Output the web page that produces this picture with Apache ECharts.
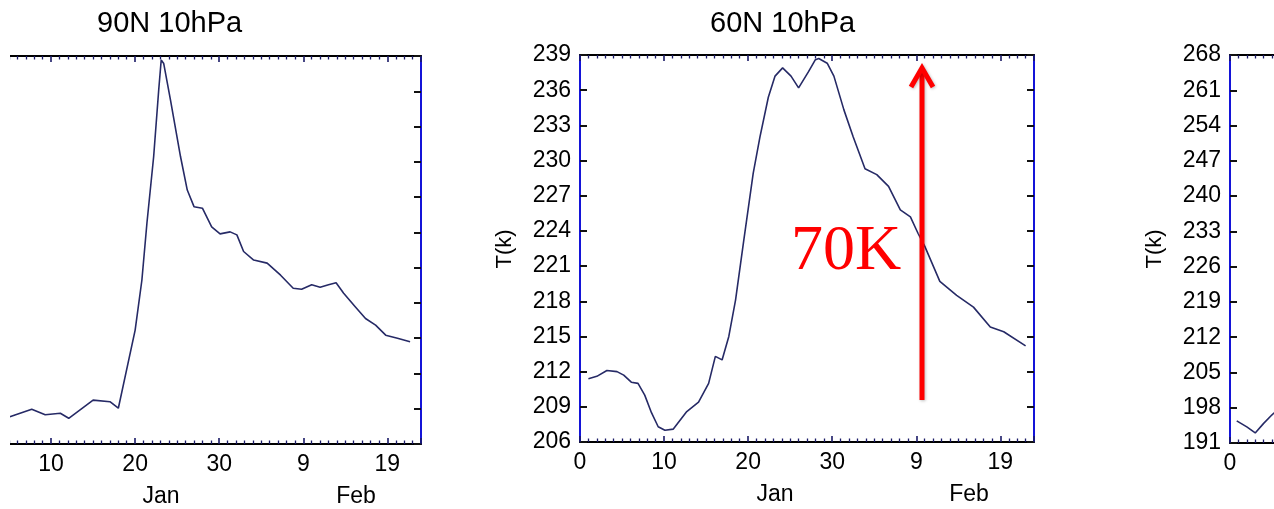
<!DOCTYPE html>
<html><head><meta charset="utf-8">
<script src="https://cdn.jsdelivr.net/npm/echarts@6/dist/echarts.min.js"></script>
<style>html,body{margin:0;padding:0;background:#fff}#c{width:1274px;height:509px}</style>
</head><body><div id="c"></div>
<script>
// ---- data (day index from Jan 0, temperature in K) ----
const days90 = [5.1,7.7,9.3,11.1,12.1,15.0,17.0,18.0,20.0,20.8,21.4,22.2,22.8,23.1,23.4,24.2,25.4,26.2,27.0,28.0,29.1,30.1,31.3,32.1,32.9,34.1,35.7,37.3,38.8,39.8,41.0,42.0,43.0,43.9,44.8,46.2,47.4,48.6,49.8,51.2,52.7];
const temp90 = [196.4,197.9,196.8,197.1,196.1,199.7,199.4,198.1,213.6,223.5,234.8,248.0,261.2,267.2,266.5,259.3,248.0,241.4,238.1,237.8,234.1,232.7,233.1,232.5,229.2,227.5,226.9,224.5,221.9,221.7,222.6,222.1,222.6,223.0,220.9,218.2,215.9,214.6,212.6,212.0,211.3];
const days60 = [1.0,2.0,3.2,4.4,5.2,6.1,6.9,7.7,8.5,9.3,10.1,11.1,12.7,14.1,15.3,16.1,16.9,17.7,18.5,19.5,20.6,21.4,22.4,23.2,24.1,25.1,26.0,27.2,28.0,28.4,29.4,30.2,31.4,32.5,33.9,35.3,36.7,38.1,39.3,40.2,41.0,42.8,44.8,46.8,48.8,50.4,53.0];
const temp60 = [211.4,211.6,212.1,212.0,211.7,211.1,211.0,210.0,208.5,207.3,207.0,207.1,208.6,209.4,211.0,213.3,213.0,215.0,218.1,223.3,228.9,232.0,235.4,237.2,237.9,237.2,236.2,237.6,238.6,238.7,238.3,237.2,234.3,232.0,229.3,228.8,227.8,225.8,225.2,223.8,222.7,219.7,218.5,217.5,215.8,215.4,214.2];
const daysR = [0.8,2.0,3.0,4.0,5.0,5.6];
const tempR = [195.4,194.2,193.0,194.9,196.6,197.5];

const xTickDays = [0,10,20,30,40,50];
const xTickLabels = ['0','10','20','30','9','19'];
const yTicksWide = [191,198,205,212,219,226,233,240,247,254,261,268];
const yTicks60 = [206,209,212,215,218,221,224,227,230,233,236,239];
const titles = ['90N 10hPa','60N 10hPa'];
const months = ['Jan','Feb'];
const annotation = '70K';
const yName = 'T(k)';

// ---- chart ----
const FONT = '"Liberation Sans", Arial, Helvetica, sans-serif';
const LINE = '#262a66';
const grids = [
  {left:-33, top:56, width:454, height:388, outerBoundsMode:'none', containLabel:false},
  {left:580, top:55, width:454, height:387, outerBoundsMode:'none', containLabel:false},
  {left:1230, top:55, width:454, height:388, outerBoundsMode:'none', containLabel:false}
];
const yTickSets = [yTicksWide, yTicks60, yTicksWide];
const yLabelShow = [false, true, true];
const seriesData = [[days90,temp90],[days60,temp60],[daysR,tempR]];

const xAxes = [], yAxes = [], series = [];
grids.forEach((g, gi) => {
  ['bottom','top'].forEach(pos => {
    xAxes.push({
      type:'value', gridIndex:gi, position:pos, min:0, max:54, interval:10,
      axisLine:{show:true, onZero:false, lineStyle:{color:'#000', width:2}},
      axisTick:{show:true, inside:true, length:6, lineStyle:{color:'#1a1a66', width:1.6}},
      minorTick:{show:true, splitNumber:10, length:3.5, lineStyle:{color:'#1a1a66', width:1.3}},
      splitLine:{show:false}, minorSplitLine:{show:false},
      axisLabel:{show: pos==='bottom', margin:9, color:'#000', fontSize:23, fontFamily:FONT,
        showMaxLabel:false, hideOverlap:false,
        formatter: v => { const i = xTickDays.indexOf(Math.round(v)); return (i>=0 && Math.abs(v-xTickDays[i])<1e-6) ? xTickLabels[i] : ''; }}
    });
  });
  const ticks = yTickSets[gi];
  const base = ticks[0], step = ticks[1]-ticks[0], top = ticks[ticks.length-1]-base;
  ['left','right'].forEach(pos => {
    yAxes.push({
      type:'value', gridIndex:gi, position:pos, min:0, max:top, interval:step,
      axisLine:{show:true, onZero:false, lineStyle:{color:'#1414d8', width:2}},
      axisTick:{show:true, inside:true, length:7, lineStyle:{color:'#111', width:2}},
      splitLine:{show:false},
      axisLabel:{show: pos==='left' && yLabelShow[gi], margin:9, color:'#000', fontSize:23, fontFamily:FONT,
        hideOverlap:false,
        formatter: v => { const i = Math.round(v/step); return ticks[i]!==undefined ? String(ticks[i]) : ''; }}
    });
  });
  const [dx, dy] = seriesData[gi];
  series.push({
    type:'line', xAxisIndex:gi*2, yAxisIndex:gi*2, showSymbol:false, silent:true,
    lineStyle:{color:LINE, width:1.6}, animation:false,
    data: dx.map((d,i) => [d, dy[i]-base])
  });
});

const graphic = [
  {type:'rect', z:100, shape:{x:0,y:30,width:10,height:440}, style:{fill:'#fff'}},
  {type:'text', z:100, style:{text:titles[0], x:97, y:24, fill:'#000', font:'29px '+FONT, textAlign:'left', textVerticalAlign:'middle'}},
  {type:'text', z:100, style:{text:titles[1], x:710, y:24, fill:'#000', font:'29px '+FONT, textAlign:'left', textVerticalAlign:'middle'}},
  {type:'text', z:100, x:505, y:249, rotation:Math.PI/2, style:{text:yName, x:0, y:0, fill:'#000', font:'22px '+FONT, textAlign:'center', textVerticalAlign:'middle'}},
  {type:'text', z:100, x:1155, y:249, rotation:Math.PI/2, style:{text:yName, x:0, y:0, fill:'#000', font:'22px '+FONT, textAlign:'center', textVerticalAlign:'middle'}},
  {type:'text', z:100, style:{text:months[0], x:161, y:497, fill:'#000', font:'23px '+FONT, textAlign:'center', textVerticalAlign:'middle'}},
  {type:'text', z:100, style:{text:months[1], x:356, y:497, fill:'#000', font:'23px '+FONT, textAlign:'center', textVerticalAlign:'middle'}},
  {type:'text', z:100, style:{text:months[0], x:775, y:495, fill:'#000', font:'23px '+FONT, textAlign:'center', textVerticalAlign:'middle'}},
  {type:'text', z:100, style:{text:months[1], x:969, y:495, fill:'#000', font:'23px '+FONT, textAlign:'center', textVerticalAlign:'middle'}},
  {type:'line', z:100, shape:{x1:922,y1:400,x2:922,y2:70}, style:{stroke:'#ff0000', lineWidth:5, shadowBlur:3, shadowColor:'rgba(0,0,0,0.25)', shadowOffsetX:1, shadowOffsetY:1}},
  {type:'polyline', z:100, shape:{points:[[911,87],[922,68],[933,87]]}, style:{stroke:'#ff0000', lineWidth:5, fill:null, lineJoin:'miter', shadowBlur:3, shadowColor:'rgba(0,0,0,0.25)', shadowOffsetX:1, shadowOffsetY:1}},
  {type:'text', z:100, style:{text:annotation, x:791, y:252, fill:'#ff0000', font:'64px "Liberation Serif", "Times New Roman", serif', textAlign:'left', textVerticalAlign:'middle', shadowBlur:3, shadowColor:'rgba(0,0,0,0.25)', shadowOffsetX:1, shadowOffsetY:1}}
];

const chart = echarts.init(document.getElementById('c'), null, {renderer:'canvas'});
chart.setOption({
  animation:false,
  backgroundColor:'#fff',
  grid: grids,
  xAxis: xAxes,
  yAxis: yAxes,
  series: series,
  graphic: graphic
});
</script>
</body></html>
